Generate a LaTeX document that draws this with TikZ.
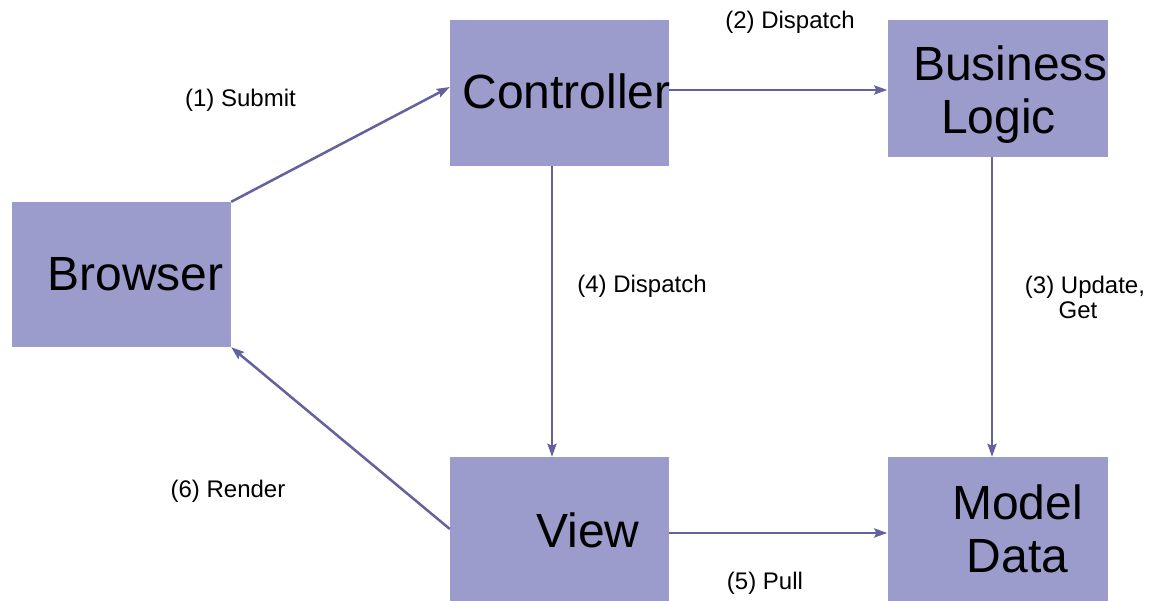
\documentclass[tikz,border=0pt]{standalone}
\usepackage{fontspec}
\setmainfont{Liberation Sans}
\usetikzlibrary{positioning,arrows.meta}

\definecolor{boxfill}{RGB}{155,155,204}
\definecolor{flow}{RGB}{99,97,158}

\tikzset{
  box/.style={fill=boxfill, minimum width=219pt, minimum height=145pt, inner sep=0pt},
  big/.style={font=\fontsize{48}{53}\selectfont, align=center, inner sep=0pt},
  small/.style={font=\fontsize{24}{25}\selectfont, align=center, inner sep=0pt},
  flowline/.style={draw=flow, line width=2.5pt, -{Stealth[length=13pt,width=9pt,inset=2pt]}}
}

\begin{document}
\begin{tikzpicture}[x=1pt,y=-1pt]
\useasboundingbox (0,0) rectangle (1149,601);

% boxes
\node[box] (browser) at (121.5,274.5) {};
\node[box, minimum height=146pt] (ctrl) at (559.5,93) {};
\node[box, minimum width=220pt, minimum height=137pt] (logic) at (997.5,88.5) {};
\node[box, minimum height=144pt] (view) at (559.5,529) {};
\node[box, minimum width=220pt, minimum height=144pt] (model) at (997.5,529) {};

% box texts, a bit off centre
\node[big] (browser text) at ([xshift=14pt]browser.center) {Browser};
\node[big] (ctrl text) at ([xshift=7pt,yshift=2pt]ctrl.center) {Controller};
\node[big] (logic text) at ([xshift=13pt,yshift=-6pt]logic.center) {Business\\Logic\hspace*{24pt}};
\node[big] (view text) at ([xshift=28.5pt,yshift=-1pt]view.center) {View};
\node[big] (model text) at ([xshift=20pt]model.center) {Model\\Data};

% flow
\draw[flowline] (browser.north east) -- ([yshift=6pt]ctrl.west);
\draw[flowline] ([yshift=3pt]ctrl.east) -- ([yshift=3pt]ctrl.east -| logic.west);
\draw[flowline] ([xshift=-5.5pt]logic.south) -- ([xshift=-5.5pt]logic.south |- model.north);
\draw[flowline] ([xshift=-7.5pt]ctrl.south) -- ([xshift=-7.5pt]ctrl.south |- view.north);
\draw[flowline] ([yshift=-4pt]view.east) -- ([yshift=-4pt]view.east -| model.west);
\draw[flowline] (view.west) -- (browser.south east);

% step labels
\node[small] (submit) at (240.5,100) {(1) Submit};
\node[small] (dispatch a) at (790,22) {(2) Dispatch};
\node[small] (update) at (1085,297) {(3) Update,\\Get\hspace*{14pt}};
\node[small] (dispatch b) at (642,286) {(4) Dispatch};
\node[small] (pull) at (765,583) {(5) Pull};
\node[small] (render) at (228,491) {(6) Render};
\end{tikzpicture}
\end{document}
